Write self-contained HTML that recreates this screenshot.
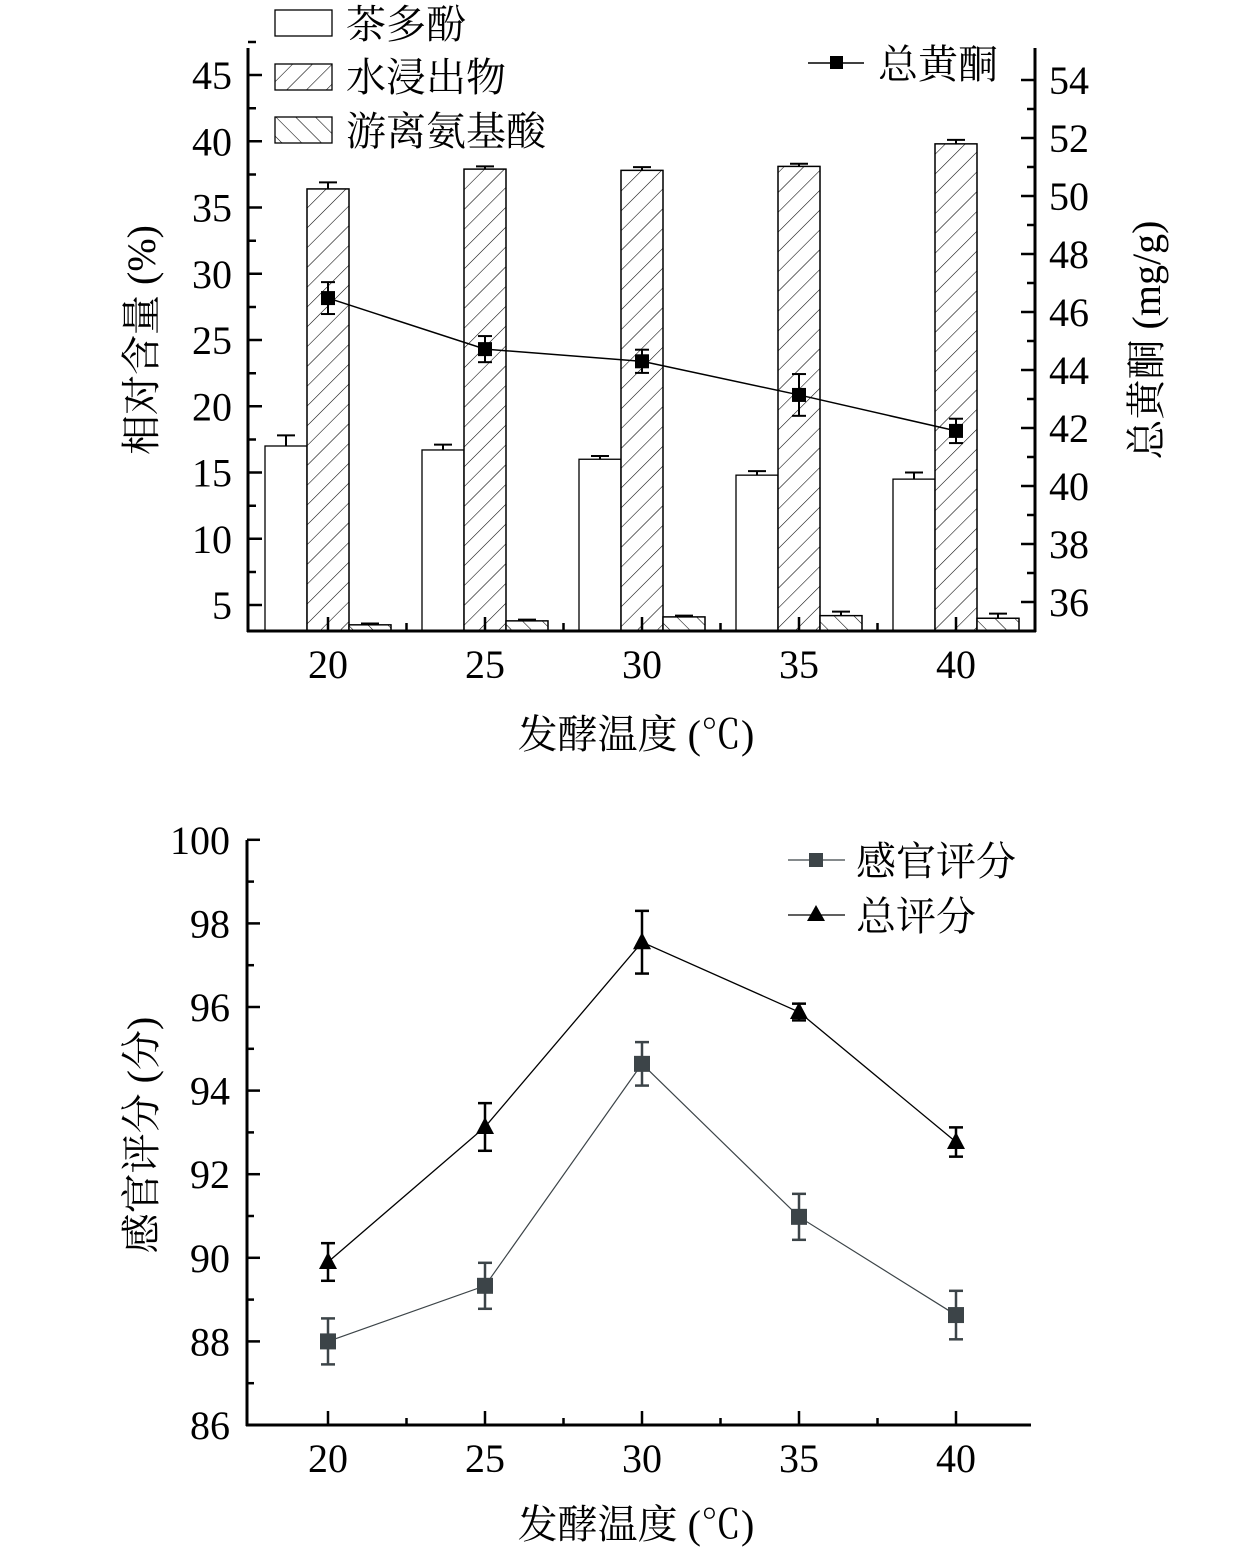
<!DOCTYPE html>
<html><head><meta charset="utf-8"><style>
body{margin:0;background:#fff}
svg{display:block}
text{font-family:"Liberation Serif","Noto Serif CJK SC",serif;fill:#000}
</style></head><body>
<svg id="c" width="1260" height="1550" viewBox="0 0 1260 1550" xmlns="http://www.w3.org/2000/svg">
<defs>
<pattern id="hatchF" patternUnits="userSpaceOnUse" width="14" height="14" patternTransform="rotate(45)"><line x1="0" y1="0" x2="0" y2="14" stroke="#000" stroke-width="1.1"/></pattern>
<pattern id="hatchB" patternUnits="userSpaceOnUse" width="14" height="14" patternTransform="rotate(-45)"><line x1="0" y1="0" x2="0" y2="14" stroke="#000" stroke-width="1.1"/></pattern>
</defs>
</svg>
<script>
const categories=[20,25,30,35,40];
const polyphenols=[17.0,16.7,16.0,14.8,14.5];
const polyErr=[0.8,0.4,0.25,0.3,0.5];
const extract=[36.4,37.9,37.8,38.1,39.8];
const extractErr=[0.5,0.2,0.25,0.2,0.3];
const aminoAcids=[3.5,3.8,4.1,4.2,4.0];
const aminoErr=[0.1,0.1,0.1,0.3,0.35];
const flavonoids=[46.48,44.72,44.3,43.14,41.9];
const flavErr=[0.55,0.45,0.4,0.72,0.42];
const leftTicks=[5,10,15,20,25,30,35,40,45];
const rightTicks=[36,38,40,42,44,46,48,50,52,54];
const sensory=[88.0,89.33,94.64,90.98,88.63];
const sensoryErr=[0.55,0.55,0.52,0.55,0.58];
const totalScore=[89.9,93.13,97.55,95.88,92.77];
const totalErr=[0.45,0.57,0.75,0.2,0.35];
const bottomTicks=[86,88,90,92,94,96,98,100];

const svg=document.getElementById('c');
const NS='http://www.w3.org/2000/svg';
function el(tag,attrs,parent){const e=document.createElementNS(NS,tag);for(const k in attrs)e.setAttribute(k,attrs[k]);(parent||svg).appendChild(e);return e;}
function txt(s,x,y,size,anchor,parent){const t=el('text',{x:x,y:y,'font-size':size,'text-anchor':anchor||'middle'},parent);t.textContent=s;return t;}
const xS=v=>328+(v-20)*(956-328)/20;

// ---------- Top chart ----------
const yL=v=>605-(v-5)*13.25;
const yR=v=>602-(v-36)*29;
const topG=el('g',{});


const bw=42;
function errBar(g,x,y0,y1,cap,color,w){el('line',{x1:x,x2:x,y1:y0,y2:y1,stroke:color,'stroke-width':w||2},g);el('line',{x1:x-cap,x2:x+cap,y1:y1,y2:y1,stroke:color,'stroke-width':w||2},g);}
categories.forEach((c,i)=>{
  const cx=xS(c);
  const specs=[[polyphenols,polyErr,'#fff',cx-1.5*bw,'bar-polyphenols'],[extract,extractErr,'url(#hatchF)',cx-0.5*bw,'bar-water-extract'],[aminoAcids,aminoErr,'url(#hatchB)',cx+0.5*bw,'bar-amino-acids']];
  specs.forEach(([arr,er,fill,x,name])=>{
    const y=yL(arr[i]);
    const r=el('rect',{x:x,y:y,width:bw,height:631-y,fill:'#fff',stroke:'#000','stroke-width':1.3},topG);
    
    
    if(fill!=='#fff')el('rect',{x:x,y:y,width:bw,height:631-y,fill:fill,stroke:'#000','stroke-width':1.3},topG);
    errBar(topG,x+bw/2,y,yL(arr[i]+er[i]),9,'#000',2);
  });
});
el('line',{x1:248,y1:48,x2:248,y2:632,stroke:'#000','stroke-width':3},topG);
el('line',{x1:1035,y1:48,x2:1035,y2:632,stroke:'#000','stroke-width':3},topG);
el('line',{x1:247,y1:631,x2:1036,y2:631,stroke:'#000','stroke-width':3},topG);
leftTicks.forEach(t=>{const y=yL(t);el('line',{x1:248,x2:262,y1:y,y2:y,stroke:'#000','stroke-width':2.5},topG);if(t<45)el('line',{x1:248,x2:256,y1:y-33,y2:y-33,stroke:'#000','stroke-width':2.5},topG);txt(String(t),232,y+14,40,'end',topG);});
el('line',{x1:248,x2:256,y1:yL(45)-33,y2:yL(45)-33,stroke:'#000','stroke-width':2.5},topG);
rightTicks.forEach(t=>{const y=yR(t);el('line',{x1:1021,x2:1035,y1:y,y2:y,stroke:'#000','stroke-width':2.5},topG);if(t<54)el('line',{x1:1027,x2:1035,y1:y-29,y2:y-29,stroke:'#000','stroke-width':2.5},topG);txt(String(t),1049,y+14,40,'start',topG);});
categories.forEach(c=>{const x=xS(c);el('line',{x1:x,x2:x,y1:617,y2:631,stroke:'#000','stroke-width':2.5},topG);if(c<40)el('line',{x1:x+78.5,x2:x+78.5,y1:623,y2:631,stroke:'#000','stroke-width':2.5},topG);txt(String(c),x,678,40,'middle',topG);});
let pts=categories.map((c,i)=>xS(c)+','+yR(flavonoids[i])).join(' ');
el('polyline',{points:pts,fill:'none',stroke:'#000','stroke-width':1.5},topG);
categories.forEach((c,i)=>{const x=xS(c),y=yR(flavonoids[i]);
  errBar(topG,x,y,yR(flavonoids[i]+flavErr[i]),7,'#000',2);errBar(topG,x,y,yR(flavonoids[i]-flavErr[i]),7,'#000',2);
  const m=el('rect',{x:x-7,y:y-7,width:14,height:14,fill:'#000'},topG);
  
  });
const yt=txt('相对含量 (%)',0,0,40,'middle',topG);yt.setAttribute('transform','translate(155,340) rotate(-90)');

const yt2=txt('总黄酮 (mg/g)',0,0,40,'middle',topG);yt2.setAttribute('transform','translate(1160,340) rotate(-90)');

const xt=txt('发酵温度 (℃)',636,748,40,'middle',topG);

const lg=el('g',{},topG);


el('rect',{x:275,y:10,width:57,height:26,fill:'#fff',stroke:'#000','stroke-width':1.3},lg);
el('rect',{x:275,y:64,width:57,height:26,fill:'url(#hatchF)',stroke:'#000','stroke-width':1.3},lg);
el('rect',{x:275,y:117,width:57,height:26,fill:'url(#hatchB)',stroke:'#000','stroke-width':1.3},lg);
txt('茶多酚',346,38,40,'start',lg);txt('水浸出物',346,91,40,'start',lg);txt('游离氨基酸',346,145,40,'start',lg);
el('line',{x1:808,x2:864,y1:63,y2:63,stroke:'#000','stroke-width':1.5},lg);
el('rect',{x:830,y:56,width:13,height:13,fill:'#000'},lg);
txt('总黄酮',878,78,40,'start',lg);

// ---------- Bottom chart ----------
const yB=v=>1425-(v-86)*41.8;
const bot=el('g',{});


el('line',{x1:247,y1:840,x2:247,y2:1426,stroke:'#000','stroke-width':3},bot);
el('line',{x1:246,y1:1425,x2:1031,y2:1425,stroke:'#000','stroke-width':3},bot);
bottomTicks.forEach(t=>{const y=yB(t);el('line',{x1:247,x2:260,y1:y,y2:y,stroke:'#000','stroke-width':2.5},bot);if(t<100)el('line',{x1:247,x2:254,y1:y-41.8,y2:y-41.8,stroke:'#000','stroke-width':2.5},bot);txt(String(t),230,y+14,40,'end',bot);});
categories.forEach(c=>{const x=xS(c);el('line',{x1:x,x2:x,y1:1411,y2:1425,stroke:'#000','stroke-width':2.5},bot);if(c<40)el('line',{x1:x+78.5,x2:x+78.5,y1:1418,y2:1425,stroke:'#000','stroke-width':2.5},bot);txt(String(c),x,1472,40,'middle',bot);});
function series(arr,err,color,lw,marker,name){
  el('polyline',{points:categories.map((c,i)=>xS(c)+','+yB(arr[i])).join(' '),fill:'none',stroke:color,'stroke-width':lw},bot);
  categories.forEach((c,i)=>{const x=xS(c),y=yB(arr[i]);
    errBar(bot,x,y,yB(arr[i]+err[i]),7,color,2.5);errBar(bot,x,y,yB(arr[i]-err[i]),7,color,2.5);
    let m;
    if(marker==='sq')m=el('rect',{x:x-8,y:y-8,width:16,height:16,fill:color},bot);
    else m=el('polygon',{points:`${x},${y-10} ${x-9},${y+7} ${x+9},${y+7}`,fill:color},bot);
    
    });
}
series(sensory,sensoryErr,'#3c4448',1.2,'sq','point-sensory');
series(totalScore,totalErr,'#000',1.3,'tri','point-total');
const yt3=txt('感官评分 (分)',0,0,40,'middle',bot);yt3.setAttribute('transform','translate(155,1135) rotate(-90)');

const xt2=txt('发酵温度 (℃)',636,1538,40,'middle',bot);

const lg2=el('g',{},bot);


el('line',{x1:788,x2:845,y1:860,y2:860,stroke:'#3c4448','stroke-width':1.3},lg2);
el('rect',{x:809,y:853,width:14,height:14,fill:'#3c4448'},lg2);
txt('感官评分',856,875,40,'start',lg2);
el('line',{x1:788,x2:845,y1:915,y2:915,stroke:'#000','stroke-width':1.3},lg2);
el('polygon',{points:'816,905 807,921 825,921',fill:'#000'},lg2);
txt('总评分',856,930,40,'start',lg2);
</script>
</body></html>
